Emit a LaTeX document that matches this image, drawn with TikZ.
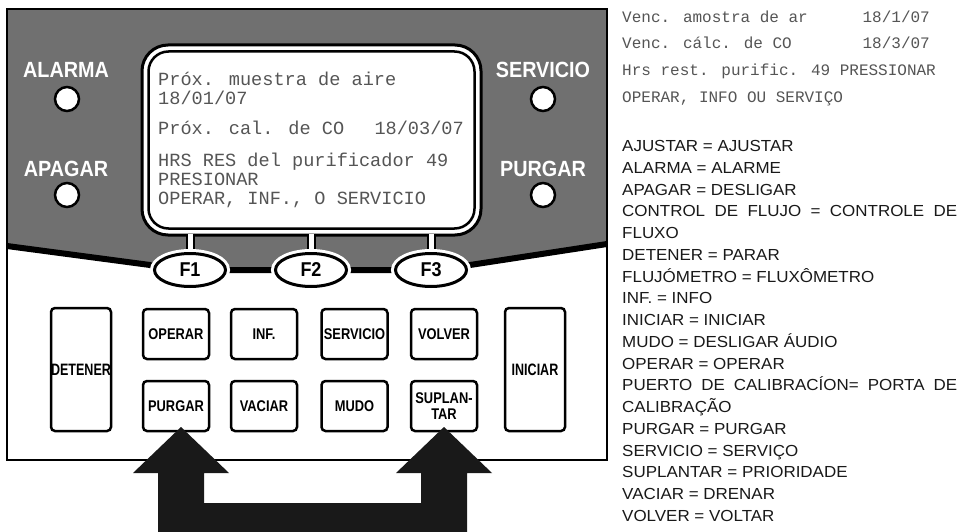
\documentclass[tikz,border=0pt]{standalone}
\usepackage{fontspec}
\setmainfont{Liberation Sans}
\newfontfamily\lcd{Liberation Mono}
\newfontfamily\glf[FakeStretch=1.06]{Liberation Sans}
\newfontfamily\pnl[FakeStretch=0.9]{Liberation Sans Bold}
\newfontfamily\btn[FakeStretch=0.83]{Liberation Sans Bold}
\newfontfamily\tbtn[FakeStretch=0.76]{Liberation Sans Bold}
\usetikzlibrary{shapes.geometric,calc}
\definecolor{panelgray}{RGB}{112,112,112}
\definecolor{lcdtext}{RGB}{85,85,85}
\begin{document}
\begin{tikzpicture}[x=1pt,y=-1pt,
  lbl/.style={anchor=base, inner sep=0, text=white, font=\pnl\fontsize{22}{24}\selectfont},
  led/.style={circle, draw=black, fill=white, line width=2.5pt, minimum size=24pt, inner sep=0},
  btnbox/.style={draw=black, fill=white, line width=2.5pt, rounded corners=4pt, inner sep=0, align=center, font=\btn\fontsize{15.5}{16.5}\selectfont, minimum width=66pt, minimum height=50pt},
  tallbox/.style={btnbox, minimum width=60pt, minimum height=123pt, font=\tbtn\fontsize{16.5}{17.5}\selectfont},
  fkey/.style={ellipse, draw=black, fill=white, line width=3pt, minimum width=71pt, minimum height=33pt, inner sep=0, font=\pnl\fontsize{20}{22}\selectfont, preaction={draw=white, line width=9pt}},
  stem/.style={line width=2pt, double=white, double distance=5pt, shorten <=-3pt},
  sl/.style={anchor=base west, inner sep=0, text=lcdtext, font=\lcd\fontsize{18.6}{20}\selectfont},
  rl/.style={anchor=base west, inner sep=0, text=lcdtext, font=\lcd\fontsize{16}{18}\selectfont},
  gl/.style={anchor=base west, inner sep=0, text=black!90, font=\glf\fontsize{16}{18}\selectfont}]
\useasboundingbox (0,0) rectangle (960,532);
\fill[white] (0,0) rectangle (960,532);
% gray upper part of panel
\fill[panelgray] (7,9) -- (607,9) -- (607,244) -- (470,265) -- (455,270) -- (160,270) -- (150,265) -- (7,246) -- cycle;
\draw[line width=6pt, line join=round] (7,246) -- (150,265) -- (160,270) -- (455,270) -- (470,265) -- (607,244);
\draw[line width=2.5pt] (7,9) rectangle (607,460);
% panel labels and LEDs
\node[lbl] (tALARMA) at (66,78) {ALARMA};
\node[led] (lALARMA) at (67,99) {};
\node[lbl] (tAPAGAR) at (66,176) {APAGAR};
\node[led] (lAPAGAR) at (67,195) {};
\node[lbl] (tSERVICIO) at (543,78) {SERVICIO};
\node[led] (lSERVICIO) at (543,99) {};
\node[lbl] (tPURGAR) at (543,176) {PURGAR};
\node[led] (lPURGAR) at (543,195) {};
% screen
\node[draw=black, fill=white, line width=3pt, rounded corners=26pt, minimum width=339pt, minimum height=190pt, inner sep=0] (scr) at (311.5,140) {};
\node[draw=black, line width=2.5pt, rounded corners=20pt, minimum width=326pt, minimum height=177pt, inner sep=0] (scrin) at (311.5,140) {};
\node[sl] (s1) at (158,86) {Próx. muestra de aire};
\node[sl] (s2) at (158,105) {18/01/07};
\node[sl] (s3) at (158,135) {Próx. cal. de CO};
\node[sl, anchor=base east] (s3b) at (464,135) {18/03/07};
\node[sl] (s4) at (158,166) {HRS RES del purificador 49};
\node[sl] (s5) at (158,185) {PRESIONAR};
\node[sl] (s6) at (158,204) {OPERAR, INF., O SERVICIO};
% function keys
\coordinate (c1) at (190,270);
\coordinate (c2) at (311,270);
\coordinate (c3) at (431,270);
\foreach \k in {1,2,3} \draw[stem] (scr.south -| c\k) -- (c\k);
\node[fkey] (F1) at (c1) {F1};
\node[fkey] (F2) at (c2) {F2};
\node[fkey] (F3) at (c3) {F3};
% buttons
\node[tallbox] (bDET) at (81,369.5) {DETENER};
\node[tallbox] (bINI) at (535,369.5) {INICIAR};
\node[btnbox] (bOPE) at (176,334) {OPERAR};
\node[btnbox] (bINF) at (264,334) {INF.};
\node[btnbox] (bSER) at (354.5,334) {SERVICIO};
\node[btnbox] (bVOL) at (444,334) {VOLVER};
\node[btnbox] (bPUR) at (176,406) {PURGAR};
\node[btnbox] (bVAC) at (264,406) {VACIAR};
\node[btnbox] (bMUD) at (354.5,406) {MUDO};
\node[btnbox] (bSUP) at (444,406) {SUPLAN-\\[-1pt]TAR};
% double arrow
\coordinate (tipL) at (181,427);
\coordinate (tipR) at (444,427);
\fill[black!90] (158,532) -- (158,473) -- (133,473) -- (tipL) -- (229,473) -- (204,473) -- (204,503)
  -- (421,503) -- (421,473) -- (396,473) -- (tipR) -- (492,473) -- (467,473) -- (467,532) -- cycle;
% right-hand LCD text
\node[rl] (r1) at (622,22.3) {Venc. amostra de ar};
\node[rl, anchor=base east] (r1b) at (930,22.3) {18/1/07};
\node[rl] (r2) at (622,48.8) {Venc. cálc. de CO};
\node[rl, anchor=base east] (r2b) at (930,48.8) {18/3/07};
\node[rl] (r3) at (622,75.3) {Hrs rest. purific. 49 PRESSIONAR};
\node[rl] (r4) at (622,102.3) {OPERAR, INFO OU SERVIÇO};
% glossary
\foreach \t [count=\i from 0] in {AJUSTAR = AJUSTAR, ALARMA = ALARME, APAGAR = DESLIGAR,
  {\makebox[335pt][s]{CONTROL DE FLUJO = CONTROLE DE}}, FLUXO, DETENER = PARAR,
  FLUJÓMETRO = FLUXÔMETRO, INF. = INFO, INICIAR = INICIAR, MUDO = DESLIGAR ÁUDIO,
  OPERAR = OPERAR, {\makebox[335pt][s]{PUERTO DE CALIBRACÍON= PORTA DE}}, CALIBRAÇÃO,
  PURGAR = PURGAR, SERVICIO = SERVIÇO, SUPLANTAR = PRIORIDADE, VACIAR = DRENAR, VOLVER = VOLTAR}
  \node[gl] (g\i) at (622,151.5+21.75*\i) {\t};
\end{tikzpicture}
\end{document}
